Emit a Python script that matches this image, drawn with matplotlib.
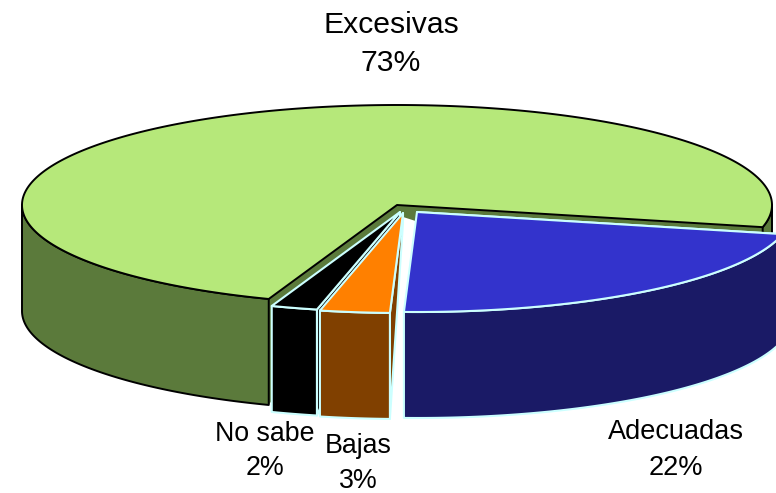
import numpy as np
import matplotlib
matplotlib.use("Agg")
import matplotlib.pyplot as plt
from matplotlib.patches import Polygon

categories = ["Excesivas", "Adecuadas", "Bajas", "No sabe"]
values = [73, 22, 3, 2]
pct_labels = ["73%", "22%", "3%", "2%"]

top_colors = ["#B6E87A", "#3333CC", "#FF8000", "#000000"]
side_colors = ["#5B7A3B", "#1A1A66", "#804000", "#000000"]
edge_colors = ["#000000", "#CCFFFF", "#CCFFFF", "#CCFFFF"]
apex_x = [397, 417, 403, 400]
apex_y = [205, 212, 213, 212]
label_x = [391, 676, 358, 265]
label_y = [[25, 63], [432, 468], [446, 481], [434, 468]]
label_size = [21.7, 19.5, 19.3, 19.3]

RX, RY, DEPTH = 375, 100, 106
WALL_DROP = 10
START = 110.0  # screen-clockwise angle where the first slice starts

plt.rcParams["font.family"] = ["Liberation Sans", "DejaVu Sans"]
fig = plt.figure(figsize=(7.76, 4.93), dpi=100)
ax = fig.add_axes([0, 0, 1, 1])
ax.set_xlim(0, 776)
ax.set_ylim(493, 0)
ax.axis("off")


def rim(cx, cy, a0, a1, dz=0):
    t = np.radians(np.linspace(a0, a1, max(int(abs(a1 - a0) * 2), 2)))
    return np.column_stack([cx + RX * np.cos(t), cy + dz + RY * np.sin(t)])


def draw_slice(i, a0, a1, z):
    cx, cy = apex_x[i], apex_y[i]
    ec, lw = edge_colors[i], 1.4 if i == 0 else 1.5
    kw = dict(closed=True, edgecolor=ec, linewidth=lw, joinstyle="round", zorder=z)
    apex = np.array([cx, cy])
    # cut walls: the clockwise-start wall always, the end wall for the big slice
    for ang in ([a0, a1] if i == 0 else [a0]):
        p = rim(cx, cy, ang, ang + 0.01)[0]
        wall = [apex, p, p + [0, DEPTH], apex + [0, WALL_DROP]]
        wall_kw = dict(kw, edgecolor=ec if i else "none")
        ax.add_patch(Polygon(wall, facecolor=side_colors[i], **wall_kw))
    # outer side, only the front half of the rim
    for lo, hi in [(0, 180), (360, 540)]:
        b0, b1 = max(a0, lo), min(a1, hi)
        if b1 > b0:
            top = rim(cx, cy, b0, b1)
            bot = rim(cx, cy, b0, b1, DEPTH)
            ax.add_patch(Polygon(np.vstack([top, bot[::-1]]), facecolor=side_colors[i], **kw))
    # top face
    ax.add_patch(Polygon(np.vstack([apex, rim(cx, cy, a0, a1)]), facecolor=top_colors[i], **kw))


# slice angles from the values
cum = START
spans = []
for v in values:
    span = v / sum(values) * 360
    start = cum if not spans else cum % 360
    spans.append((start, start + span))
    cum += span

for z, i in enumerate([0, 1, 3, 2]):
    draw_slice(i, *spans[i], 2 + z)

for i in range(len(categories)):
    ax.text(label_x[i], label_y[i][0], categories[i], ha="center", va="center",
            fontsize=label_size[i], color="black", zorder=10)
    ax.text(label_x[i], label_y[i][1], pct_labels[i], ha="center", va="center",
            fontsize=label_size[i], color="black", zorder=10)

fig.savefig("out.png", dpi=100)
